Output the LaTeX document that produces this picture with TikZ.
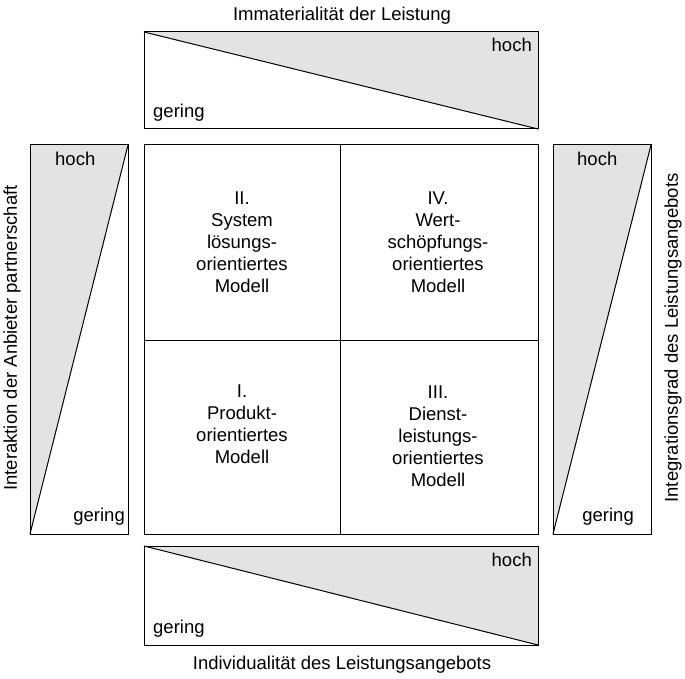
\documentclass[tikz,border=0pt]{standalone}
\usepackage{fontspec}
\setmainfont{Liberation Sans}
\begin{document}
\begin{tikzpicture}[x=1pt,y=-1pt,
  box/.style={draw=black,line width=1pt},
  tri/.style={fill=black!11},
  lbl/.style={font=\fontsize{18.5}{18.5}\selectfont,inner sep=0pt},
  q/.style={font=\fontsize{18.5}{22}\selectfont,align=center,inner sep=0pt}]
\useasboundingbox (0,0) rectangle (685,679);
% top
\fill[tri] (144,32)--(538,32)--(538,129)--cycle;
\draw[box] (144,32) rectangle (538,129);
\draw[line width=1pt] (144,32)--(538,129);
\node[lbl,anchor=north east] (th) at (532,38) {hoch};
\node[lbl,anchor=south west] (tg) at (153,122) {gering};
\node[lbl] (tt) at (342,16) {Immaterialität der Leistung};
% bottom
\fill[tri] (144,546)--(538,546)--(538,645)--cycle;
\draw[box] (144,546) rectangle (538,645);
\draw[line width=1pt] (144,546)--(538,645);
\node[lbl,anchor=north east] (bh) at (532,553) {hoch};
\node[lbl,anchor=south west] (bg) at (153,638) {gering};
\node[lbl] (bt) at (342,665) {Individualität des Leistungsangebots};
% left
\fill[tri] (30,145)--(128,145)--(30,534)--cycle;
\draw[box] (30,145) rectangle (128,534);
\draw[line width=1pt] (128,145)--(30,534);
\node[lbl,anchor=north west] (lh) at (55,152) {hoch};
\node[lbl,anchor=south east] (lg) at (125,526) {gering};
\node[lbl,rotate=90] (lt) at (12,338) {Interaktion der Anbieter partnerschaft};
% right
\fill[tri] (553,145)--(651,145)--(553,534)--cycle;
\draw[box] (553,145) rectangle (651,534);
\draw[line width=1pt] (651,145)--(553,534);
\node[lbl,anchor=north west] (rh) at (577,152) {hoch};
\node[lbl,anchor=south east] (rg) at (634,526) {gering};
\node[lbl,rotate=90] (rt) at (673,338) {Integrationsgrad des Leistungsangebots};
% grid
\draw[box] (144,145) rectangle (538,534);
\draw[line width=1pt] (340,145)--(340,534) (144,340)--(538,340);
\node[q] (q2) at (242,242) {II.\\System\\lösungs-\\orientiertes\\Modell};
\node[q] (q4) at (438,242) {IV.\\Wert-\\schöpfungs-\\orientiertes\\Modell};
\node[q] (q1) at (242,424) {I.\\Produkt-\\orientiertes\\Modell};
\node[q] (q3) at (438,436) {III.\\Dienst-\\leistungs-\\orientiertes\\Modell};
\end{tikzpicture}
\end{document}
